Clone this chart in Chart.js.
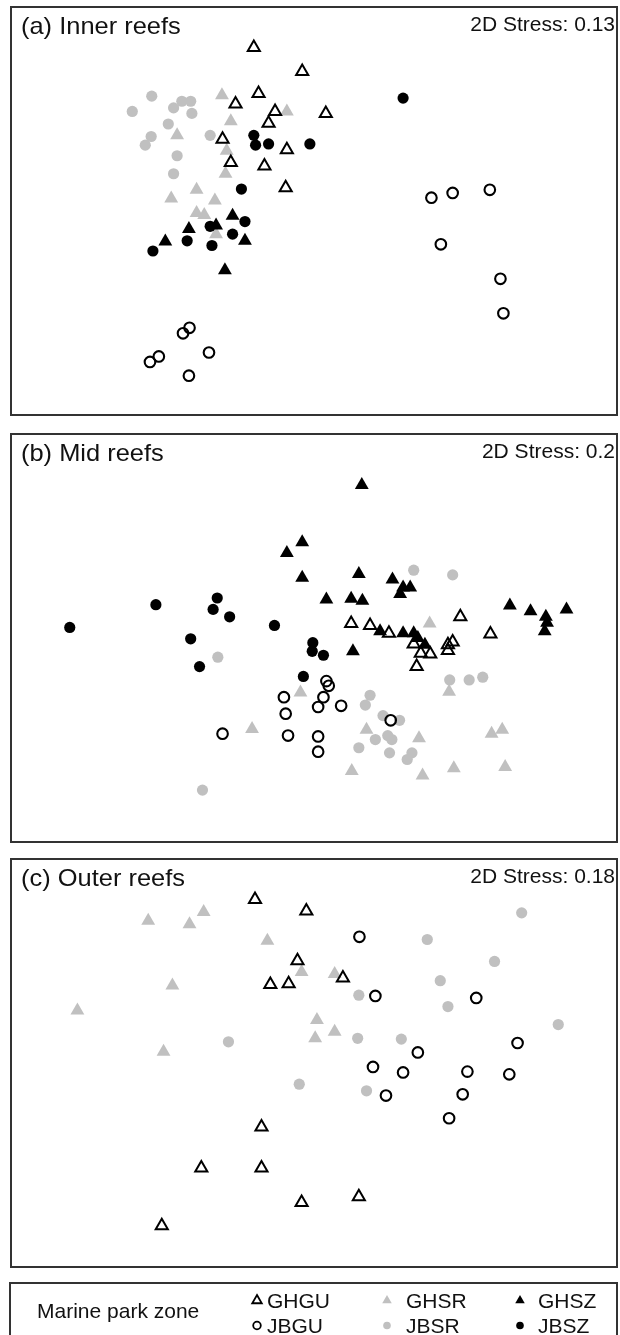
<!DOCTYPE html>
<html>
  <head>
    <title>nMDS - reef fish assemblages by marine park zone</title>
    <script src="https://cdn.jsdelivr.net/npm/chart.js@4.4.0/dist/chart.umd.min.js"></script>
    <style>
      body { margin: 0; width: 620px; height: 1335px; overflow: hidden; background: #fff; }
      .panel { position: absolute; left: 10px; width: 608px; height: 410px; }
      #legendBox { position: absolute; left: 0; top: 1280px; }
    </style>
  </head>
  <body>
    <div class="panel" style="top:6px"><canvas id="innerChart" width="608" height="410"></canvas></div>
    <div class="panel" style="top:433px"><canvas id="midChart" width="608" height="410"></canvas></div>
    <div class="panel" style="top:858px"><canvas id="outerChart" width="608" height="410"></canvas></div>
    <canvas id="legendBox" width="620" height="55"></canvas>
  </body>
  <script>
    // nMDS ordination scores (axes are unitless, 0-100 across each panel)
    const zones = ['GHGU', 'JBGU', 'GHSZ', 'JBSZ', 'GHSR', 'JBSR']

    // (a) Inner reefs
    const innerGHGU = [[39.8,91.7],[48.0,85.6],[40.6,80.0],[36.7,77.3],[43.4,75.4],[42.3,72.4],[34.5,68.3],[45.4,65.6],[35.9,62.4],[41.6,61.5],[45.2,55.9],[52.0,74.9]]
    const innerGHSR = [[34.4,79.5],[45.4,75.4],[35.9,72.9],[26.8,69.3],[35.2,65.4],[35.0,59.5],[30.1,55.4],[25.8,53.2],[33.2,52.7],[30.1,49.5],[31.4,49.0],[33.4,44.1]]
    const innerGHSZ = [[36.2,48.8],[33.4,46.3],[28.8,45.4],[24.8,42.2],[38.3,42.4],[34.9,34.9]]
    const innerJBGU = [[28.9,20.2],[27.8,18.8],[32.2,13.9],[23.7,12.9],[22.2,11.5],[28.8,8.0],[69.9,53.4],[73.5,54.6],[79.8,55.4],[71.5,41.5],[81.6,32.7],[82.1,23.9]]
    const innerJBSR = [[22.5,79.3],[27.6,78.0],[29.1,78.0],[26.2,76.3],[19.2,75.4],[29.3,74.9],[25.3,72.2],[32.4,69.3],[22.4,69.0],[21.4,66.8],[26.8,64.1],[26.2,59.5]]
    const innerJBSZ = [[39.8,69.3],[40.1,66.8],[42.3,67.1],[49.3,67.1],[65.1,78.8],[37.7,55.6],[38.3,47.3],[32.4,46.1],[36.2,44.1],[28.5,42.4],[32.7,41.2],[22.7,39.8]]

    // (b) Mid reefs
    const midGHGU = [[56.3,53.7],[59.5,53.2],[62.7,51.2],[66.9,48.5],[68.1,46.1],[69.7,45.9],[67.4,42.7],[74.8,55.4],[79.9,51.0],[73.5,49.0],[72.7,48.3],[72.7,46.8]]
    const midGHSR = [[47.7,36.1],[39.5,26.8],[69.6,53.7],[72.9,36.3],[58.9,26.6],[67.8,24.4],[80.1,25.6],[81.9,26.6],[56.4,16.1],[68.4,14.9],[73.7,16.8],[82.4,17.1]]
    const midGHSZ = [[58.1,89.0],[48.0,74.4],[45.4,71.7],[48.0,65.4],[57.6,66.3],[63.3,64.9],[65.1,62.9],[66.3,62.9],[64.6,61.2],[52.1,59.8],[56.3,60.0],[58.2,59.5],[61.2,51.7],[65.1,51.2],[66.9,51.2],[67.6,50.0],[68.8,48.3],[56.6,46.6],[83.2,58.3],[86.7,56.8],[89.3,55.4],[89.5,53.9],[89.1,51.7],[92.8,57.3]]
    const midJBGU = [[44.9,34.9],[45.2,30.7],[50.7,32.4],[34.5,25.6],[45.6,25.1],[50.7,24.9],[50.7,21.0],[52.1,39.0],[52.5,37.8],[51.6,34.9],[54.6,32.7],[63.0,29.0]]
    const midJBSR = [[33.7,45.1],[31.1,11.2],[66.9,67.3],[73.5,66.1],[73.0,39.3],[76.3,39.3],[78.6,40.0],[59.5,35.4],[58.7,32.9],[61.7,30.2],[64.5,29.0],[60.4,24.1],[62.5,25.1],[63.2,24.1],[57.6,22.0],[62.8,20.7],[66.6,20.7],[65.8,19.0]]
    const midJBSZ = [[8.6,52.7],[23.2,58.5],[33.6,60.2],[32.9,57.3],[35.7,55.4],[43.3,53.2],[29.1,49.8],[30.6,42.7],[49.8,48.8],[49.7,46.6],[51.6,45.6],[48.2,40.2]]

    // (c) Outer reefs (no GHSZ / JBSZ sites)
    const outerGHGU = [[40.0,91.7],[48.7,88.8],[47.2,76.1],[42.6,70.0],[45.7,70.2],[54.9,71.7],[41.1,33.7],[30.9,23.2],[41.1,23.2],[47.9,14.4],[57.6,15.9],[24.2,8.5]]
    const outerGHSR = [[21.9,86.3],[28.9,85.4],[31.3,88.5],[42.1,81.2],[47.9,73.2],[26.0,69.8],[9.9,63.4],[24.5,52.9],[50.5,61.0],[50.2,56.3],[53.5,72.7],[53.5,58.0]]
    const outerJBGU = [[57.7,82.2],[60.4,67.1],[77.5,66.6],[84.5,55.1],[67.6,52.7],[60.0,49.0],[65.1,47.6],[76.0,47.8],[83.1,47.1],[62.2,41.7],[75.2,42.0],[72.9,35.9]]
    const outerJBSR = [[35.5,55.4],[47.5,44.6],[85.2,88.3],[69.2,81.5],[80.6,75.9],[71.4,71.0],[57.6,67.3],[72.7,64.4],[91.4,59.8],[57.4,56.3],[64.8,56.1],[58.9,42.9]]

    const panelTitles = ['(a) Inner reefs', '(b) Mid reefs', '(c) Outer reefs']
    const stressLabels = ['2D Stress: 0.13', '2D Stress: 0.2', '2D Stress: 0.18']

    const GREY = '#c0c0c0'
    const FONT = "'Liberation Sans', Arial, Helvetica, sans-serif"

    const zoneStyle = {
      GHGU: { pointStyle: 'triangle', pointRadius: 7, pointBorderWidth: 2, pointBorderColor: '#000', pointBackgroundColor: 'rgba(0,0,0,0)' },
      JBGU: { pointStyle: 'circle', pointRadius: 5.3, pointBorderWidth: 2.1, pointBorderColor: '#000', pointBackgroundColor: 'rgba(0,0,0,0)' },
      GHSZ: { pointStyle: 'triangle', pointRadius: 8, pointBorderWidth: 0, pointBackgroundColor: '#000' },
      JBSZ: { pointStyle: 'circle', pointRadius: 5.6, pointBorderWidth: 0, pointBackgroundColor: '#000' },
      GHSR: { pointStyle: 'triangle', pointRadius: 8, pointBorderWidth: 0, pointBackgroundColor: GREY },
      JBSR: { pointStyle: 'circle', pointRadius: 5.6, pointBorderWidth: 0, pointBackgroundColor: GREY },
    }

    const toPts = (arr) => arr.map(([x, y]) => ({ x, y }))

    // frame + panel title + stress value
    const panelFrame = {
      id: 'panelFrame',
      afterDraw(chart, args, options) {
        const { ctx, width, height } = chart
        ctx.save()
        ctx.strokeStyle = '#333'
        ctx.lineWidth = 2
        ctx.strokeRect(1, 1, width - 2, height - 2)
        ctx.fillStyle = '#111'
        ctx.font = '24px ' + FONT
        ctx.textBaseline = 'alphabetic'
        ctx.translate(11, 28)
        ctx.scale(1.06, 1)
        ctx.fillText(options.title, 0, 0)
        ctx.setTransform(1, 0, 0, 1, 0, 0)
        ctx.font = '21px ' + FONT
        ctx.textAlign = 'right'
        ctx.fillText(options.stress, width - 3, 25)
        ctx.restore()
      },
    }

    function makeChart(id, idx, series) {
      const datasets = zones
        .filter((z) => series[z])
        .map((z) => Object.assign({ label: z, data: toPts(series[z]), clip: false }, zoneStyle[z]))
      return new Chart(document.getElementById(id).getContext('2d'), {
        type: 'scatter',
        data: { datasets },
        options: {
          responsive: false,
          animation: false,
          events: [],
          layout: { padding: 0 },
          scales: {
            x: { type: 'linear', min: 0, max: 100, display: false },
            y: { type: 'linear', min: 0, max: 100, display: false },
          },
          plugins: {
            legend: { display: false },
            tooltip: { enabled: false },
            panelFrame: { title: panelTitles[idx], stress: stressLabels[idx] },
          },
        },
        plugins: [panelFrame],
      })
    }

    makeChart('innerChart', 0, { GHGU: innerGHGU, GHSR: innerGHSR, GHSZ: innerGHSZ, JBGU: innerJBGU, JBSR: innerJBSR, JBSZ: innerJBSZ })
    makeChart('midChart', 1, { GHGU: midGHGU, GHSR: midGHSR, GHSZ: midGHSZ, JBGU: midJBGU, JBSR: midJBSR, JBSZ: midJBSZ })
    makeChart('outerChart', 2, { GHGU: outerGHGU, GHSR: outerGHSR, JBGU: outerJBGU, JBSR: outerJBSR })

    // shared key at the bottom
    const lg = document.getElementById('legendBox').getContext('2d')
    function keySymbol(zone, x, y) {
      const s = zoneStyle[zone]
      lg.beginPath()
      if (s.pointStyle === 'triangle') {
        const r = 5.5
        lg.moveTo(x, y - r)
        lg.lineTo(x + r * 0.866, y + r / 2)
        lg.lineTo(x - r * 0.866, y + r / 2)
        lg.closePath()
      } else {
        lg.arc(x, y, 3.8, 0, Math.PI * 2)
      }
      if (s.pointBorderWidth) {
        lg.lineWidth = 1.8
        lg.strokeStyle = '#000'
        lg.stroke()
      } else {
        lg.fillStyle = s.pointBackgroundColor
        lg.fill()
      }
    }
    lg.strokeStyle = '#333'
    lg.lineWidth = 2
    lg.strokeRect(10, 3, 607, 70)
    lg.fillStyle = '#111'
    lg.font = '21px ' + FONT
    lg.fillText('Marine park zone', 37, 38)
    const keyCols = [[257, 267], [387, 406], [520, 538]]
    const keyRows = [['GHGU', 'GHSR', 'GHSZ'], ['JBGU', 'JBSR', 'JBSZ']]
    keyRows.forEach((row, r) => {
      const base = r === 0 ? 28 : 53
      row.forEach((z, c) => {
        keySymbol(z, keyCols[c][0], base - 7.5)
        lg.fillStyle = '#111'
        lg.font = '21px ' + FONT
        lg.fillText(z, keyCols[c][1], base)
      })
    })
  </script>
</html>
